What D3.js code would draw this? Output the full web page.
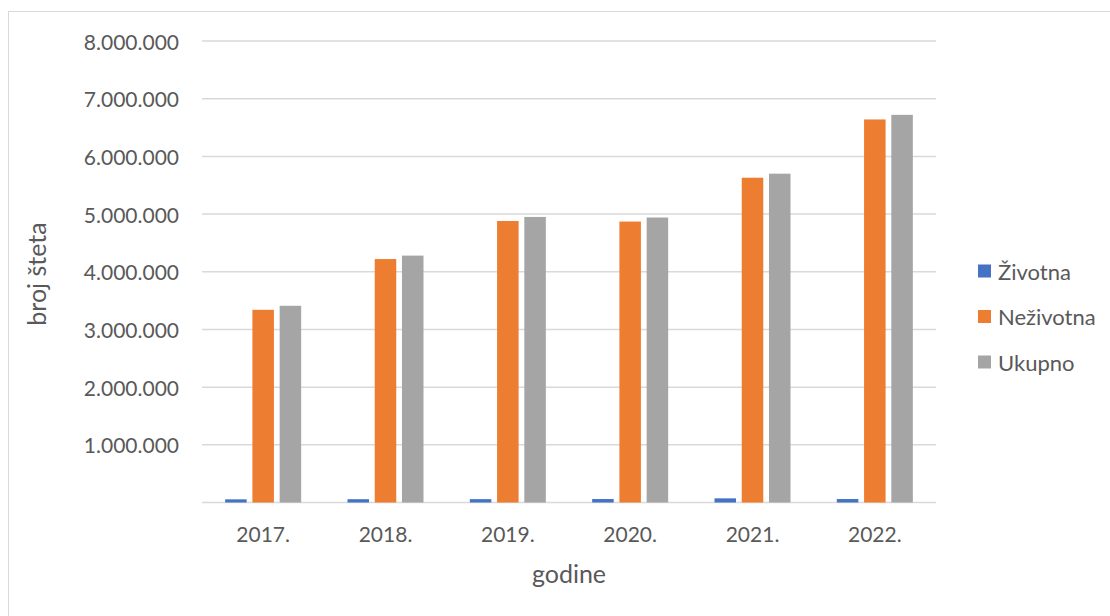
<!DOCTYPE html>
<html>
<head>
<meta charset="utf-8">
<script src="https://cdn.jsdelivr.net/npm/d3@7"></script>
<style>
  html, body { margin: 0; padding: 0; background: #fff; }
  svg { display: block; }
  text { font-family: Lato, "Open Sans", sans-serif; fill: #595959; }
</style>
</head>
<body>
<svg id="chart" width="1110" height="616"></svg>
<script>
const categories = ["2017.", "2018.", "2019.", "2020.", "2021.", "2022."];
const seriesNames = ["Životna", "Neživotna", "Ukupno"];
const zivotna = [55000, 57000, 58000, 60000, 72000, 60000];
const nezivotna = [3340000, 4220000, 4880000, 4870000, 5630000, 6640000];
const ukupno = [3410000, 4280000, 4950000, 4940000, 5700000, 6720000];
const yTicks = [1000000, 2000000, 3000000, 4000000, 5000000, 6000000, 7000000, 8000000];
const colors = ["#4472C4", "#ED7D31", "#A5A5A5"];
const xTitle = "godine";
const yTitle = "broj šteta";

const seriesValues = [zivotna, nezivotna, ukupno];

const svg = d3.select("#chart");
const W = 1110, H = 616;
const plot = { left: 202, right: 936, top: 41, bottom: 502.5 };

svg.append("rect").attr("width", W).attr("height", H).attr("fill", "#fff");
svg.append("rect")
  .attr("x", 8.5).attr("y", 11.5).attr("width", W).attr("height", H)
  .attr("fill", "none").attr("stroke", "#d9d9d9").attr("stroke-width", 1);

const y = d3.scaleLinear().domain([0, 8000000]).range([plot.bottom, plot.top]);
const x0 = d3.scaleBand().domain(categories).range([plot.left, plot.right]).padding(0);
const groupW = 76;
const x1 = d3.scaleBand().domain(seriesNames).range([0, groupW]).paddingInner(0.21).paddingOuter(0);

const fmt = v => d3.format(",")(v).replace(/,/g, ".");

// gridlines
svg.append("g").selectAll("line").data([0].concat(yTicks)).join("line")
  .attr("x1", plot.left).attr("x2", plot.right)
  .attr("y1", d => y(d)).attr("y2", d => y(d))
  .attr("stroke", "#d9d9d9").attr("stroke-width", 1.5);

// y tick labels
svg.append("g").selectAll("text").data(yTicks).join("text")
  .attr("x", 179).attr("y", d => y(d))
  .attr("text-anchor", "end").attr("dominant-baseline", "central")
  .attr("font-size", 21).text(fmt);

// bars
const groups = svg.append("g").selectAll("g").data(categories).join("g")
  .attr("transform", c => `translate(${x0(c) + (x0.bandwidth() - groupW) / 2},0)`);
groups.selectAll("rect")
  .data((c, i) => seriesNames.map((s, j) => ({ s, j, v: seriesValues[j][i] })))
  .join("rect")
  .attr("x", d => x1(d.s))
  .attr("width", x1.bandwidth())
  .attr("y", d => y(d.v))
  .attr("height", d => y(0) - y(d.v))
  .attr("fill", d => colors[d.j]);

// x labels
svg.append("g").selectAll("text").data(categories).join("text")
  .attr("x", c => x0(c) + x0.bandwidth() / 2).attr("y", 533)
  .attr("text-anchor", "middle").attr("dominant-baseline", "central")
  .attr("font-size", 21).text(c => c);

// axis titles
svg.append("text").attr("x", 569).attr("y", 573)
  .attr("text-anchor", "middle").attr("dominant-baseline", "central")
  .attr("font-size", 25).text(xTitle);
svg.append("text")
  .attr("transform", "translate(36,274) rotate(-90)")
  .attr("text-anchor", "middle").attr("dominant-baseline", "central")
  .attr("font-size", 25).text(yTitle);

// legend
const legendY = d3.scalePoint().domain(seriesNames).range([271, 362]);
const lg = svg.append("g").selectAll("g").data(seriesNames).join("g")
  .attr("transform", s => `translate(978,${legendY(s)})`);
lg.append("rect").attr("x", 0).attr("y", -6.5).attr("width", 13).attr("height", 13)
  .attr("fill", (s, i) => colors[i]);
lg.append("text").attr("x", 20).attr("y", 0).attr("dominant-baseline", "central")
  .attr("font-size", 22).text(s => s);
</script>
</body>
</html>
